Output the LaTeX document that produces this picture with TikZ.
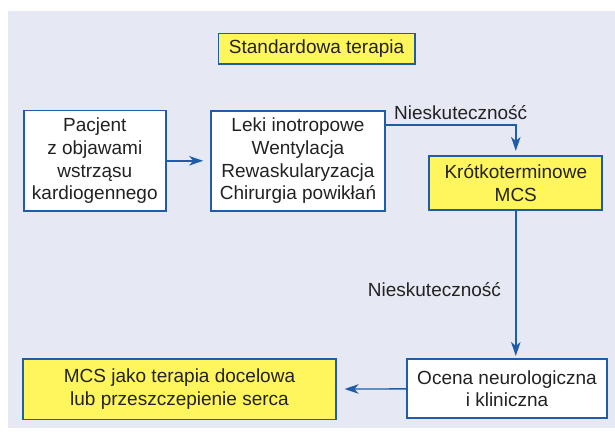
\documentclass[tikz,border=0pt]{standalone}
\usepackage{fontspec}
\setmainfont{Liberation Sans}
\usetikzlibrary{arrows.meta,calc}
\definecolor{bgc}{HTML}{E6E8F4}
\definecolor{bluec}{HTML}{1F5DA8}
\definecolor{yel}{HTML}{FFF55C}
\definecolor{txt}{HTML}{222222}
\tikzset{
  box/.style={draw=bluec, line width=1.7pt, fill=white, align=center, text=txt,
    font=\fontsize{19}{22.7}\selectfont, inner sep=0pt},
  ybox/.style={box, fill=yel},
  arr/.style={draw=bluec, line width=1.4pt, -{Stealth[length=14pt,width=9.5pt,inset=4pt]}},
  lbl/.style={text=txt, font=\fontsize{19}{22.7}\selectfont, inner sep=0pt}
}
\begin{document}
\begin{tikzpicture}[x=1pt,y=-1pt]
\useasboundingbox (0,0) rectangle (615,436);
\fill[bgc] (8,11) rectangle (615,428);
\node[ybox, minimum width=196.5pt, minimum height=30.5pt] (std) at (316.6,48.7) {Standardowa terapia};
\node[box, minimum width=141.7pt, minimum height=100.5pt] (pac) at (94.8,160.8) {Pacjent\\z objawami\\wstrząsu\\kardiogennego};
\node[box, minimum width=174pt, minimum height=100.3pt] (leki) at (298,160.8) {Leki inotropowe\\Wentylacja\\Rewaskularyzacja\\Chirurgia powikłań};
\node[ybox, minimum width=173pt, minimum height=54.3pt] (krot) at (515.8,182.9) {Krótkoterminowe\\MCS};
\node[box, minimum width=200.6pt, minimum height=59pt] (ocena) at (507,388.8) {Ocena neurologiczna\\i kliniczna};
\node[ybox, minimum width=312.4pt, minimum height=60.3pt] (mcs) at (179.5,389.2) {MCS jako terapia docelowa\\lub przeszczepienie serca};
\coordinate (c1) at ($(leki.north east)+(0,15)$);
\draw[arr, shorten >=4pt] (c1) -| (krot.north);
\draw[arr, shorten >=7pt] (pac) -- (leki);
\coordinate (c2) at (krot.south);
\draw[arr, shorten >=2.5pt] (c2) -- (c2 |- ocena.north);
\draw[arr, shorten >=8pt] (ocena) -- (mcs);
\node[lbl, anchor=base west] (n1) at (394,119) {Nieskuteczność};
\node[lbl, anchor=base west] (n2) at (367.7,296.7) {Nieskuteczność};
\end{tikzpicture}
\end{document}
